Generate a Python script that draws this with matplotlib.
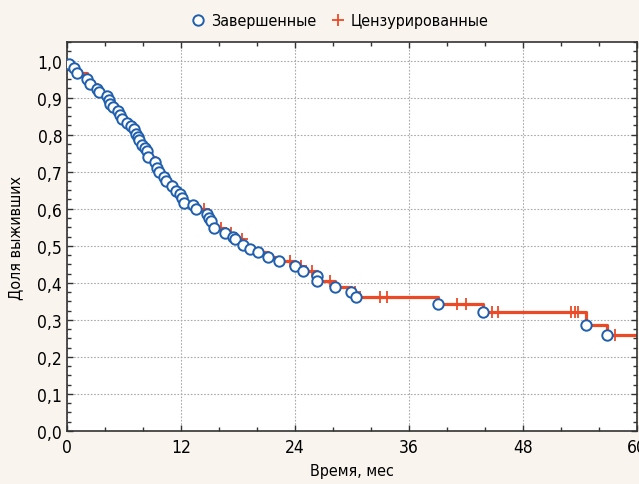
import matplotlib
matplotlib.use("Agg")
import matplotlib.pyplot as plt
import numpy as np
from matplotlib.ticker import MultipleLocator, FuncFormatter

plt.rcParams['font.family'] = ['DejaVu Sans']
plt.rcParams['font.stretch'] = 'condensed'

# events (completed): time in months, survival after the drop
event_t = [0.24, 0.74, 1.02, 2.07, 2.42, 3.19, 3.40, 4.24, 4.45, 4.53, 4.81, 5.40,
           5.58, 5.76, 6.28, 6.71, 7.05, 7.26, 7.51, 7.61, 7.86, 8.21, 8.45, 8.56,
           9.26, 9.51, 9.72, 10.21, 10.42, 11.02, 11.47, 11.89, 12.07, 12.32, 13.23,
           13.58, 14.77, 14.98, 15.13, 15.47, 16.63, 17.51, 17.68, 18.56, 19.26,
           20.14, 21.19, 22.28, 24.0, 24.87, 26.28, 26.35, 28.21, 29.86, 30.42,
           39.08, 43.76, 54.6, 56.8]
event_s = [0.990, 0.981, 0.967, 0.949, 0.938, 0.924, 0.915, 0.904, 0.893, 0.884,
           0.875, 0.864, 0.852, 0.841, 0.832, 0.822, 0.814, 0.803, 0.794, 0.785,
           0.773, 0.764, 0.755, 0.740, 0.726, 0.710, 0.699, 0.686, 0.674, 0.661,
           0.649, 0.641, 0.629, 0.616, 0.609, 0.598, 0.586, 0.575, 0.566, 0.548,
           0.534, 0.524, 0.517, 0.503, 0.492, 0.483, 0.469, 0.458, 0.445, 0.433,
           0.418, 0.404, 0.388, 0.375, 0.361, 0.344, 0.322, 0.287, 0.259]

# censored observations (months)
cens_t = [14.4, 16.2, 17.3, 18.4, 23.5, 24.6, 25.8, 27.7, 30.3, 32.9, 33.7,
          41.0, 42.0, 44.7, 45.4, 53.1, 53.5, 53.8, 57.7]

t_end = 60

# step curve
step_t = np.concatenate([[0], event_t, [t_end]])
step_s = np.concatenate([[1.0], event_s, [event_s[-1]]])

def surv_at(t):
    idx = np.searchsorted(event_t, t, side='right')
    return 1.0 if idx == 0 else event_s[idx - 1]

cens_s = [surv_at(t) for t in cens_t]

bg = '#f9f5ee'
red = '#ec4a26'
blue = '#1f5fae'

fig = plt.figure(figsize=(6.39, 4.85), dpi=100, facecolor=bg)
ax = fig.add_axes([0.1049, 0.1093, 0.8920, 0.802])
ax.set_facecolor('white')

ax.step(step_t, step_s, where='post', color=red, lw=2.3, zorder=2)
ax.plot(cens_t, cens_s, ls='none', marker='+', ms=8, mew=1.3, color=red,
        zorder=3, label='Цензурированные')
ax.plot(event_t, event_s, ls='none', marker='o', ms=7.5, mew=1.4,
        mfc='white', mec=blue, zorder=4, label='Завершенные')

ax.set_xlim(0, 60)
ax.set_ylim(0, 1.05)
ax.xaxis.set_major_locator(MultipleLocator(12))
ax.xaxis.set_minor_locator(MultipleLocator(4))
ax.yaxis.set_major_locator(MultipleLocator(0.1))
ax.yaxis.set_minor_locator(MultipleLocator(0.025))
ax.yaxis.set_major_formatter(FuncFormatter(lambda v, p: f"{v:.1f}".replace('.', ',')))

ax.tick_params(which='both', direction='in', top=True, right=True,
               labelsize=12.5, color='#333333')
ax.tick_params(which='major', length=4, width=1)
ax.tick_params(which='minor', length=3, width=1)
ax.tick_params(axis='x', pad=5)

ax.grid(True, which='major', ls=(0, (1.5, 1.5)), color='#aaaaaa', lw=0.8)
for sp in ax.spines.values():
    sp.set_color('#333333')
    sp.set_linewidth(1.2)

ax.set_xlabel('Время, мес', fontsize=11.5, labelpad=5)
ax.set_ylabel('Доля выживших', fontsize=11.5, labelpad=10)

h, l = ax.get_legend_handles_labels()
fig.legend(h[::-1], l[::-1], loc='upper center', bbox_to_anchor=(0.53, 1.0),
           ncol=2, frameon=False, fontsize=11.5, handletextpad=0.2,
           columnspacing=0.8, handlelength=1.2)

fig.savefig('out.png', dpi=100, facecolor=bg)
